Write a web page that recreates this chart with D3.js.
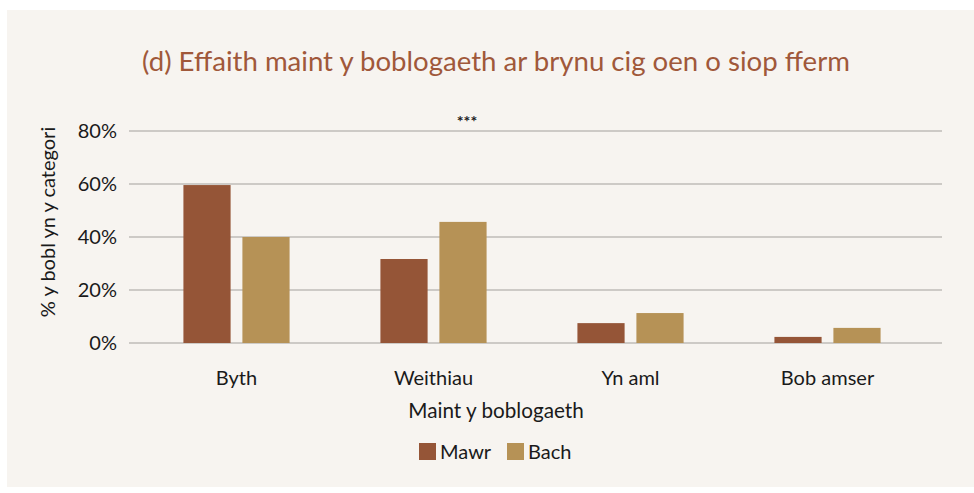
<!DOCTYPE html>
<html>
<head>
<meta charset="utf-8">
<script src="https://cdn.jsdelivr.net/npm/d3@7"></script>
<style>
  body { margin: 0; background: #ffffff; }
  svg { display: block; font-family: Lato, "Open Sans", sans-serif; }
</style>
</head>
<body>
<svg id="chart" width="974" height="493"></svg>
<script>
const categories = ['Byth', 'Weithiau', 'Yn aml', 'Bob amser'];
const seriesNames = ['Mawr', 'Bach'];
const mawr = [59.6, 31.7, 7.5, 2.3];
const bach = [40.0, 45.7, 11.3, 5.7];
const yTicks = [0, 20, 40, 60, 80];
const colors = ['#955537', '#b69256'];

const svg = d3.select('#chart');
const plot = {left: 129, right: 942, top: 131, bottom: 343};

svg.append('rect')
    .attr('x', 7).attr('y', 10)
    .attr('width', 967).attr('height', 477)
    .attr('fill', '#f7f4f0');

const x = d3.scaleBand().domain(categories).range([138, 926]);
const xs = d3.scaleBand().domain(seriesNames).range([0, x.bandwidth()]).paddingInner(0.2).paddingOuter(0.77);
const y = d3.scaleLinear().domain([0, 80]).range([plot.bottom, plot.top]);

// gridlines
svg.append('g').selectAll('line').data(yTicks).join('line')
    .attr('x1', plot.left).attr('x2', plot.right)
    .attr('y1', d => y(d)).attr('y2', d => y(d))
    .attr('stroke', '#bfbcb8').attr('stroke-width', 1.6);

// y tick labels
svg.append('g').selectAll('text').data(yTicks).join('text')
    .attr('x', 117).attr('y', d => y(d) + 7)
    .attr('text-anchor', 'end')
    .attr('font-size', 20).attr('fill', '#1a1a1a')
    .text(d => d + '%');

// bars
const rows = categories.map((c, i) => ({cat: c, values: [mawr[i], bach[i]]}));
svg.append('g').selectAll('g').data(rows).join('g')
    .attr('transform', d => `translate(${x(d.cat)},0)`)
    .selectAll('rect').data(d => d.values.map((v, j) => ({name: seriesNames[j], v, j})))
    .join('rect')
    .attr('x', d => xs(d.name))
    .attr('width', xs.bandwidth())
    .attr('y', d => y(d.v))
    .attr('height', d => y(0) - y(d.v))
    .attr('fill', d => colors[d.j]);

// x labels
svg.append('g').selectAll('text').data(categories).join('text')
    .attr('x', d => x(d) + x.bandwidth() / 2)
    .attr('y', 385)
    .attr('text-anchor', 'middle')
    .attr('font-size', 20).attr('fill', '#1a1a1a')
    .text(d => d);

// title
svg.append('text')
    .attr('x', 496).attr('y', 71)
    .attr('text-anchor', 'middle')
    .attr('font-size', 27.6).attr('fill', '#a0583a')
    .text('(d) Effaith maint y boblogaeth ar brynu cig oen o siop fferm');

// significance marker
svg.append('text')
    .attr('x', 467).attr('y', 127)
    .attr('text-anchor', 'middle')
    .attr('font-size', 16).attr('font-weight', 'bold').attr('fill', '#1a1a1a')
    .text('***');

// axis titles
svg.append('text')
    .attr('transform', 'translate(55,222) rotate(-90)')
    .attr('text-anchor', 'middle')
    .attr('font-size', 20).attr('fill', '#1a1a1a')
    .text('% y bobl yn y categori');

svg.append('text')
    .attr('x', 496).attr('y', 418)
    .attr('text-anchor', 'middle')
    .attr('font-size', 20.7).attr('fill', '#1a1a1a')
    .text('Maint y boblogaeth');

// legend
const legendX = [419, 507];
const lg = svg.append('g').selectAll('g').data(seriesNames).join('g')
    .attr('transform', (d, i) => `translate(${legendX[i]},443)`);
lg.append('rect').attr('width', 17).attr('height', 17).attr('fill', (d, i) => colors[i]);
lg.append('text').attr('x', 21).attr('y', 16)
    .attr('font-size', 20).attr('fill', '#1a1a1a')
    .text(d => d);
</script>
</body>
</html>
